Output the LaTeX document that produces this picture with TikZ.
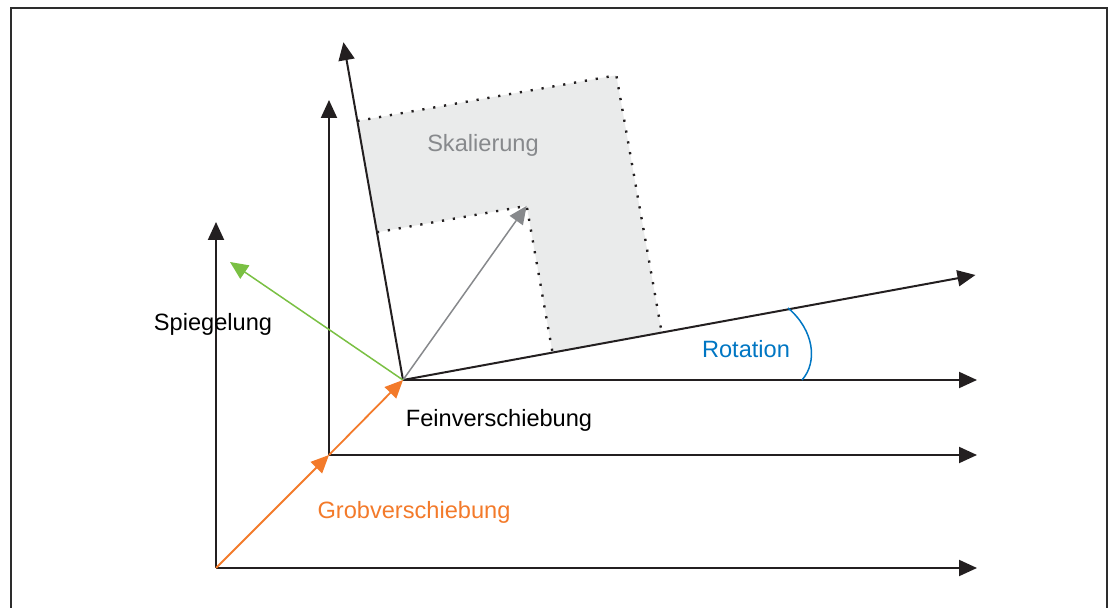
\documentclass[tikz,border=0pt]{standalone}
\usepackage{fontspec}
\setmainfont{Liberation Sans}
\usetikzlibrary{arrows.meta}
\definecolor{axisC}{RGB}{35,31,32}
\definecolor{borderC}{RGB}{45,45,45}
\definecolor{orangeC}{RGB}{243,122,42}
\definecolor{greenC}{RGB}{122,192,67}
\definecolor{grayC}{RGB}{135,137,140}
\definecolor{fillC}{RGB}{234,235,235}
\definecolor{blueC}{RGB}{0,118,195}
\begin{document}
\begin{tikzpicture}[x=0.5pt,y=-0.5pt,
  tip/.style={-{Triangle[length=9pt,width=8pt]}},
  axis/.style={tip,line width=1pt,draw=axisC,fill=axisC},
  grob/.style={tip,line width=0.9pt,draw=orangeC,fill=orangeC},
  spieg/.style={tip,line width=0.75pt,draw=greenC,fill=greenC},
  skal/.style={tip,line width=0.75pt,draw=grayC,fill=grayC},
  dotline/.style={line width=1.2pt,draw=axisC,dash pattern=on 1.1pt off 4.4pt},
  lbl/.style={font=\fontsize{11.8pt}{14pt}\selectfont,inner sep=0pt}]
\useasboundingbox (0,0) rectangle (1112,608);
\draw[line width=1.2pt,draw=borderC] (11,608) -- (11,8) -- (1107,8) -- (1107,608);

% origins
\coordinate (O1) at (216,568);
\coordinate (O2) at (329,455);
\coordinate (O3) at (403,380);
\coordinate (X1) at (977,568);
\coordinate (Y1) at (216,222);
\coordinate (X2) at (977,455);
\coordinate (Y2) at (329,100);
\coordinate (X3) at (977,380);
\coordinate (S) at (230,262);

% rotated frame with scaling region
\begin{scope}[shift={(403,380)},rotate=10]
  \fill[fillC] (0,-150) -- (152,-150) -- (152,-1) -- (263,-2) -- (263,-263) -- (0,-263) -- cycle;
  \draw[dotline] (0,-263) -- (263,-263) -- (263,-2);
  \draw[dotline] (0,-150) -- (152,-150) -- (152,-1);
  \coordinate (RX) at (582,-4);
  \coordinate (RY) at (0,-343);
  \coordinate (G) at (152,-150);
\end{scope}

% axes
\draw[axis] (O1) -- (X1);
\draw[axis] (O1) -- (Y1);
\draw[axis] (O2) -- (X2);
\draw[axis] (O2) -- (Y2);
\draw[axis] (O3) -- (X3);
\draw[axis] (O3) -- (RX);
\draw[axis] (O3) -- (RY);

% vectors
\draw[skal] (O3) -- (G);
\draw[spieg] (O3) -- (S);
\draw[grob] (O1) -- (O2);
\draw[grob] (O2) -- (O3);

% rotation arc
\coordinate (A1) at (802,380);
\coordinate (A2) at (788,308);
\draw[line width=0.75pt,draw=blueC] (A1) .. controls (818,362) and (814,330) .. (A2);

% labels
\node[lbl,text=grayC] (tskal) at (483,145) {Skalierung};
\node[lbl] (tspieg) at (213,324) {Spiegelung};
\node[lbl,text=blueC] (trot) at (746,349) {Rotation};
\node[lbl] (tfein) at (499,420) {Feinverschiebung};
\node[lbl,text=orangeC] (tgrob) at (414,512) {Grobverschiebung};
\end{tikzpicture}
\end{document}
